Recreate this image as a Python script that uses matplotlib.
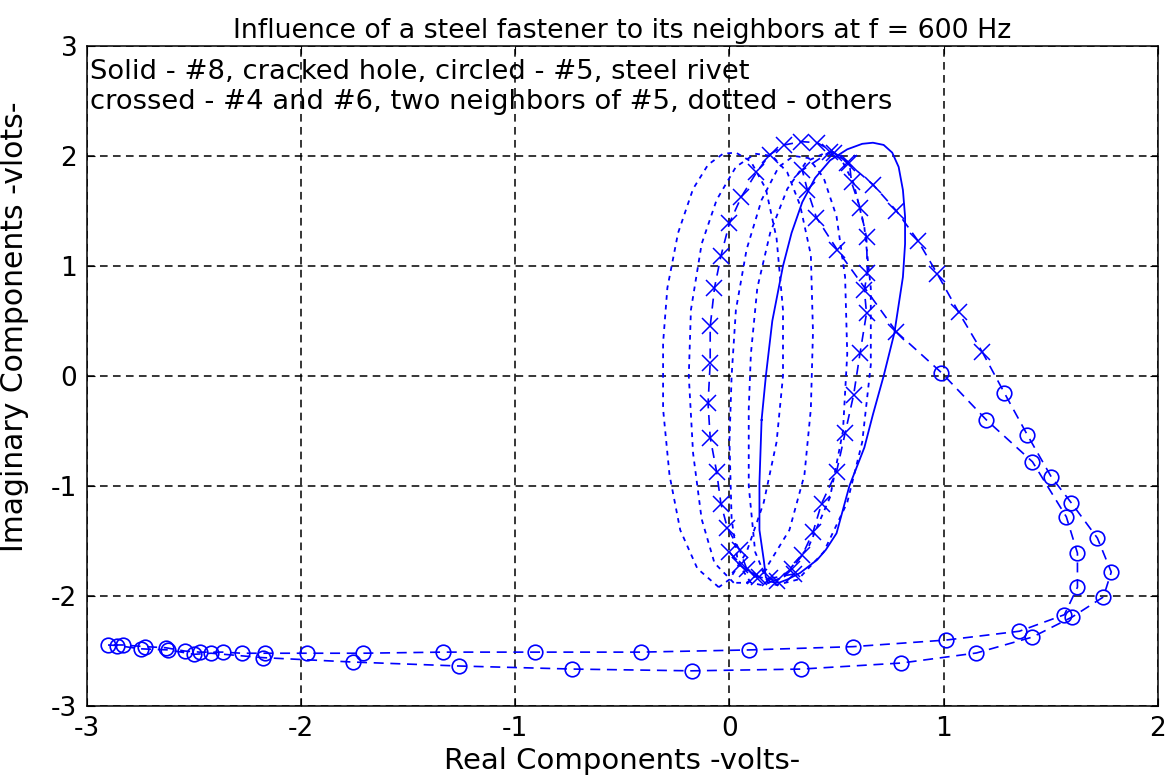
import numpy as np
import matplotlib
matplotlib.use("Agg")
import matplotlib.pyplot as plt

plt.rcParams["axes.unicode_minus"] = False

# ── data (real, imaginary in volts) ────────────────────────────────────
# solid: #8, cracked hole
solid_x = [0.15, 0.17, 0.20, 0.25, 0.29, 0.34, 0.40, 0.47, 0.55, 0.62, 0.67, 0.72,
           0.76, 0.79, 0.81, 0.82, 0.82, 0.81, 0.77, 0.72, 0.67, 0.63, 0.56, 0.50,
           0.45, 0.41, 0.33, 0.27, 0.23, 0.19, 0.17, 0.16, 0.14, 0.14, 0.15]
solid_y = [-0.40, 0.00, 0.50, 1.00, 1.30, 1.58, 1.80, 1.96, 2.06, 2.11, 2.12, 2.10,
           2.03, 1.90, 1.69, 1.45, 1.20, 0.90, 0.39, 0.00, -0.35, -0.65, -1.00, -1.43,
           -1.58, -1.67, -1.79, -1.85, -1.88, -1.87, -1.83, -1.67, -1.40, -0.97, -0.40]

# dotted: the other fasteners
dot1_x = [-0.05, -0.15, -0.23, -0.28, -0.31, -0.31, -0.29, -0.24, -0.17, -0.10, -0.03,
          0.03, 0.10, 0.17, 0.22, 0.25, 0.25, 0.22, 0.16, 0.08, 0.00, -0.05]
dot1_y = [-1.92, -1.75, -1.40, -0.90, -0.30, 0.30, 0.80, 1.30, 1.70, 1.92, 2.02,
          2.03, 1.95, 1.70, 1.25, 0.60, 0.00, -0.60, -1.15, -1.60, -1.85, -1.92]
dot2_x = [0.02, -0.07, -0.13, -0.17, -0.19, -0.18, -0.13, -0.06, 0.03, 0.12, 0.20,
          0.27, 0.33, 0.38, 0.39, 0.38, 0.35, 0.28, 0.17, 0.08, 0.02]
dot2_y = [-1.88, -1.70, -1.30, -0.70, 0.00, 0.60, 1.20, 1.60, 1.90, 2.02, 2.00,
          1.85, 1.55, 1.10, 0.40, -0.30, -0.90, -1.40, -1.75, -1.88, -1.88]
dot3_x = [0.10, 0.04, 0.01, 0.00, 0.01, 0.03, 0.08, 0.15, 0.23, 0.30, 0.37, 0.44,
          0.50, 0.54, 0.55, 0.53, 0.47, 0.37, 0.25, 0.15, 0.10]
dot3_y = [-1.88, -1.70, -1.30, -0.60, 0.00, 0.60, 1.15, 1.60, 1.90, 2.00, 1.98, 1.80,
          1.45, 0.90, 0.20, -0.50, -1.10, -1.55, -1.83, -1.90, -1.88]
dot4_x = [0.18, 0.12, 0.09, 0.09, 0.10, 0.13, 0.19, 0.27, 0.36, 0.45, 0.52, 0.58,
          0.63, 0.66, 0.66, 0.62, 0.55, 0.44, 0.32, 0.22, 0.18]
dot4_y = [-1.88, -1.60, -1.00, -0.30, 0.20, 0.80, 1.30, 1.70, 1.95, 2.03, 1.98, 1.75,
          1.35, 0.80, 0.10, -0.60, -1.15, -1.60, -1.85, -1.90, -1.88]

# crossed: #4 and #6
x4_x = [0.30, 0.19, 0.14, 0.08, 0.047, -0.01, -0.04, -0.06, -0.09, -0.10, -0.09,
        -0.09, -0.07, -0.04, 0.00, 0.056, 0.126, 0.187, 0.257, 0.336, 0.41, 0.49,
        0.55, 0.67, 0.78, 0.88, 0.97, 1.07, 1.18]
x4_y = [-1.80, -1.84, -1.83, -1.75, -1.58, -1.38, -1.16, -0.87, -0.56, -0.25, 0.12,
        0.45, 0.80, 1.09, 1.39, 1.63, 1.85, 2.01, 2.10, 2.13, 2.12, 2.03, 1.94, 1.74,
        1.50, 1.23, 0.93, 0.58, 0.22]
x6_x = [0.00, 0.05, 0.12, 0.22, 0.29, 0.34, 0.39, 0.43, 0.50, 0.54, 0.58, 0.61,
        0.64, 0.63, 0.644, 0.64, 0.61, 0.57, 0.56, 0.47, 0.34, 0.364, 0.406, 0.504,
        0.78]
x6_y = [-1.60, -1.72, -1.82, -1.86, -1.75, -1.63, -1.42, -1.16, -0.87, -0.52, -0.17,
        0.21, 0.57, 0.78, 0.94, 1.26, 1.53, 1.76, 1.94, 2.04, 1.87, 1.69, 1.44, 1.145,
        0.40]

# circled: #5, steel rivet
c5_x = [0.99, 1.20, 1.415, 1.573, 1.625, 1.625, 1.564, 1.354, 1.013,
        0.579, 0.093, -0.415, -0.91, -1.34, -1.713, -1.975, -2.171, -2.278, -2.367,
        -2.474, -2.544, -2.633, -2.731, -2.834, -2.904,
        -2.86, -2.75, -2.62, -2.50, -2.42, -2.18, -1.76, -1.265, -0.733, -0.177,
        0.336, 0.803, 1.153, 1.415, 1.601, 1.746, 1.783, 1.718, 1.597, 1.503,
        1.391, 1.284]
c5_y = [0.03, -0.40, -0.78, -1.28, -1.61, -1.92, -2.17, -2.32, -2.40,
        -2.46, -2.49, -2.51, -2.51, -2.51, -2.52, -2.52, -2.52, -2.52, -2.51,
        -2.51, -2.50, -2.47, -2.46, -2.445, -2.445,
        -2.45, -2.48, -2.49, -2.53, -2.52, -2.56, -2.60, -2.636, -2.664, -2.68,
        -2.664, -2.609, -2.518, -2.373, -2.19, -2.009, -1.782, -1.473, -1.155, -0.918,
        -0.536, -0.155]

x_ticks = [-3, -2, -1, 0, 1, 2]
y_ticks = [-3, -2, -1, 0, 1, 2, 3]

BLUE = "#0000FF"
DASH = (0, (6.0, 4.0))
DOT = (0, (2.6, 2.8))

fig = plt.figure(figsize=(11.73, 7.78), dpi=100)
ax = fig.add_axes([0.0742, 0.0925, 0.9128, 0.8485])

for xs, ys in [(dot1_x, dot1_y), (dot2_x, dot2_y), (dot3_x, dot3_y), (dot4_x, dot4_y)]:
    ax.plot(xs, ys, color=BLUE, lw=1.3, linestyle=DOT)

ax.plot(solid_x, solid_y, color=BLUE, lw=1.3, linestyle="-")

for xs, ys in [(x4_x, x4_y), (x6_x, x6_y)]:
    ax.plot(xs, ys, color=BLUE, lw=1.2, linestyle=DASH,
            marker="x", markersize=11, markeredgewidth=1.1)

# circled curve joins the ends of the two crossed curves
cx = [x6_x[-1]] + c5_x + [x4_x[-1]]
cy = [x6_y[-1]] + c5_y + [x4_y[-1]]
ax.plot(cx, cy, color=BLUE, lw=1.2, linestyle=DASH,
        marker="o", markersize=10.5, markerfacecolor="none", markeredgewidth=1.2,
        markevery=slice(1, len(cx) - 1))

ax.set_xlim(-3, 2)
ax.set_ylim(-3, 3)
ax.set_xticks(x_ticks)
ax.set_yticks(y_ticks)
ax.grid(True, color="k", linestyle=(0, (5.0, 3.5)), linewidth=1.1)
ax.tick_params(direction="in", length=6, top=True, right=True, labelsize=19,
               pad=7)
for s in ax.spines.values():
    s.set_linewidth(1.1)

ax.text(-2.985, 2.765, "Solid - #8, cracked hole, circled - #5, steel rivet",
        fontsize=19.7, va="center", ha="left")
ax.text(-2.985, 2.49, "crossed - #4 and #6, two neighbors of #5, dotted - others",
        fontsize=19.7, va="center", ha="left")

ax.set_title("Influence of a steel fastener to its neighbors at f = 600 Hz",
             fontsize=19.3, pad=6)
ax.set_xlabel("Real Components -volts-", fontsize=21, labelpad=4)
ax.set_ylabel("Imaginary Components -vlots-", fontsize=21.5)
ax.yaxis.set_label_coords(-0.054, 0.575)

fig.savefig("out.png", dpi=100)
